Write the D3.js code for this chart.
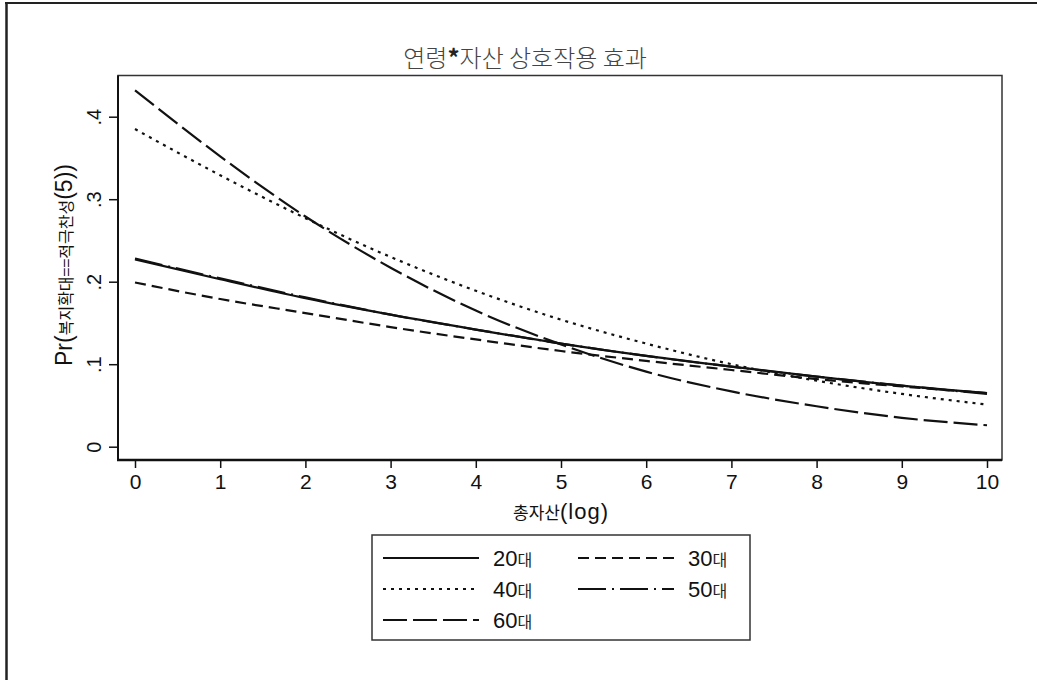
<!DOCTYPE html>
<html>
<head>
<meta charset="utf-8">
<script src="https://cdn.jsdelivr.net/npm/d3@7"></script>
<style>
  body { margin: 0; background: #fff; }
  svg { display: block; }
</style>
</head>
<body>
<svg id="chart" width="1037" height="680"></svg>
<script>
// Predicted probability of strong support for welfare expansion by log total assets
const assetLog = [0, 1, 2, 3, 4, 5, 6, 7, 8, 9, 10];
const age20 = [0.227, 0.203, 0.180, 0.160, 0.142, 0.125, 0.110, 0.097, 0.085, 0.074, 0.065];
const age30 = [0.199, 0.179, 0.162, 0.145, 0.130, 0.116, 0.104, 0.093, 0.082, 0.073, 0.065];
const age40 = [0.385, 0.329, 0.277, 0.230, 0.189, 0.154, 0.125, 0.100, 0.080, 0.064, 0.051];
const age50 = [0.228, 0.204, 0.181, 0.160, 0.142, 0.125, 0.110, 0.097, 0.085, 0.074, 0.064];
const age60 = [0.432, 0.352, 0.279, 0.217, 0.165, 0.124, 0.091, 0.067, 0.049, 0.035, 0.026];

const seriesNames = ["20대", "30대", "40대", "50대", "60대"];
const seriesValues = [age20, age30, age40, age50, age60];
const seriesDash = ["none", "11,6", "3,5", "28,6,2,6", "24,6"];

const xTicks = [0, 1, 2, 3, 4, 5, 6, 7, 8, 9, 10];
const yTicks = [0, 0.1, 0.2, 0.3, 0.4];
const yTickLabels = ["0", ".1", ".2", ".3", ".4"];

const titleText = "연령*자산 상호작용 효과";
const xTitleParts = [["총자산", 17], ["(log)", 22]];
const yTitleParts = [["Pr(", 23], ["복지확대==적극찬성", 16], ["(5))", 23]];

const svg = d3.select("#chart");
const ink = "#111";
const frameInk = "#333";
const cjk = "'Noto Sans CJK KR', sans-serif";
const latin = "'Liberation Sans', Arial, sans-serif";

// Page frame (left and top edges)
svg.append("line").attr("x1", 6.5).attr("x2", 6.5).attr("y1", 2).attr("y2", 680)
  .attr("stroke", "#222").attr("stroke-width", 2.5);
svg.append("line").attr("x1", 5).attr("x2", 1037).attr("y1", 3).attr("y2", 3)
  .attr("stroke", "#222").attr("stroke-width", 2);

// Plot region
const plot = { left: 118, right: 1002, top: 75.5, bottom: 460 };
const x = d3.scaleLinear().domain([0, 10]).range([135, 987]);
const y = d3.scaleLinear().domain([0, 0.4]).range([446.7, 116.7]);

// thin box around the plot region
svg.append("rect")
  .attr("x", plot.left).attr("y", plot.top)
  .attr("width", plot.right - plot.left).attr("height", plot.bottom - plot.top)
  .attr("fill", "none").attr("stroke", frameInk).attr("stroke-width", 1.5);

// Title, with a heavier raised asterisk
const title = svg.append("text")
  .attr("x", 525).attr("y", 67)
  .attr("text-anchor", "middle")
  .attr("font-family", cjk)
  .attr("font-size", 24)
  .attr("font-weight", 300)
  .attr("fill", "#444");
titleText.split("*").forEach((part, i) => {
  if (i > 0) title.append("tspan").attr("font-weight", "bold").attr("fill", "#222").text("*");
  title.append("tspan").text(part);
});

// Axes
const xAxis = svg.append("g")
  .attr("transform", `translate(0,${plot.bottom})`)
  .call(d3.axisBottom(x).tickValues(xTicks).tickFormat(d3.format("d")).tickSizeOuter(0).tickSize(8).tickPadding(6));
xAxis.select(".domain").remove();
xAxis.selectAll(".tick line").attr("stroke", ink).attr("stroke-width", 1.5);
xAxis.selectAll(".tick text").attr("font-family", latin).attr("font-size", 21).attr("fill", ink);

const yAxis = svg.append("g")
  .attr("transform", `translate(${plot.left},0)`)
  .call(d3.axisLeft(y).tickValues(yTicks).tickFormat((d, i) => yTickLabels[i]).tickSizeOuter(0).tickSize(9));
yAxis.select(".domain").remove();
yAxis.selectAll(".tick line").attr("stroke", ink).attr("stroke-width", 1.5);
yAxis.selectAll(".tick text")
  .attr("font-family", latin).attr("font-size", 20).attr("fill", ink)
  .attr("text-anchor", "middle")
  .attr("x", null).attr("dy", null)
  .attr("transform", "translate(-17,0) rotate(-90)");

// heavier axis lines
svg.append("line").attr("x1", plot.left).attr("x2", plot.left).attr("y1", plot.top).attr("y2", plot.bottom + 1)
  .attr("stroke", ink).attr("stroke-width", 2);
svg.append("line").attr("x1", plot.left - 1).attr("x2", plot.right).attr("y1", plot.bottom).attr("y2", plot.bottom)
  .attr("stroke", ink).attr("stroke-width", 2.5);

// Axis titles
const xTitle = svg.append("text")
  .attr("x", 561).attr("y", 519)
  .attr("text-anchor", "middle")
  .attr("fill", ink);
xTitleParts.forEach(([t, s], i) => {
  xTitle.append("tspan")
    .attr("font-family", i === 0 ? cjk : latin)
    .attr("font-size", s)
    .attr("letter-spacing", i === 0 ? 0 : 1)
    .text(t);
});

const yTitle = svg.append("text")
  .attr("transform", "translate(72,265) rotate(-90)")
  .attr("text-anchor", "middle")
  .attr("fill", ink);
yTitleParts.forEach(([t, s], i) => {
  yTitle.append("tspan")
    .attr("font-family", i === 1 ? cjk : latin)
    .attr("font-size", s)
    .text(t);
});

// Curves
const line = d3.line()
  .x((d, i) => x(assetLog[i]))
  .y(d => y(d))
  .curve(d3.curveMonotoneX);

svg.append("g").selectAll("path")
  .data(seriesValues)
  .join("path")
  .attr("d", d => line(d))
  .attr("fill", "none")
  .attr("stroke", ink)
  .attr("stroke-width", 2.2)
  .attr("stroke-dasharray", (d, i) => seriesDash[i]);

// Legend
const legend = { x: 372, y: 535, w: 378, h: 105 };
svg.append("rect")
  .attr("x", legend.x).attr("y", legend.y).attr("width", legend.w).attr("height", legend.h)
  .attr("fill", "#fff").attr("stroke", frameInk).attr("stroke-width", 1.5);

const colX = [383, 578];
const rowY = [558, 589, 620];
const swatchLen = 96;

seriesNames.forEach((name, i) => {
  const cx = colX[i % 2];
  const cy = rowY[Math.floor(i / 2)];
  svg.append("line")
    .attr("x1", cx).attr("x2", cx + swatchLen)
    .attr("y1", cy).attr("y2", cy)
    .attr("stroke", ink).attr("stroke-width", 2.2)
    .attr("stroke-dasharray", seriesDash[i]);
  const m = name.match(/^(\d+)(.*)$/);
  const t = svg.append("text")
    .attr("x", cx + swatchLen + 14).attr("y", cy + 8)
    .attr("fill", ink);
  t.append("tspan").attr("font-family", latin).attr("font-size", 22).text(m[1]);
  t.append("tspan").attr("font-family", cjk).attr("font-size", 16).attr("fill", "#222").text(m[2]);
});
</script>
</body>
</html>
